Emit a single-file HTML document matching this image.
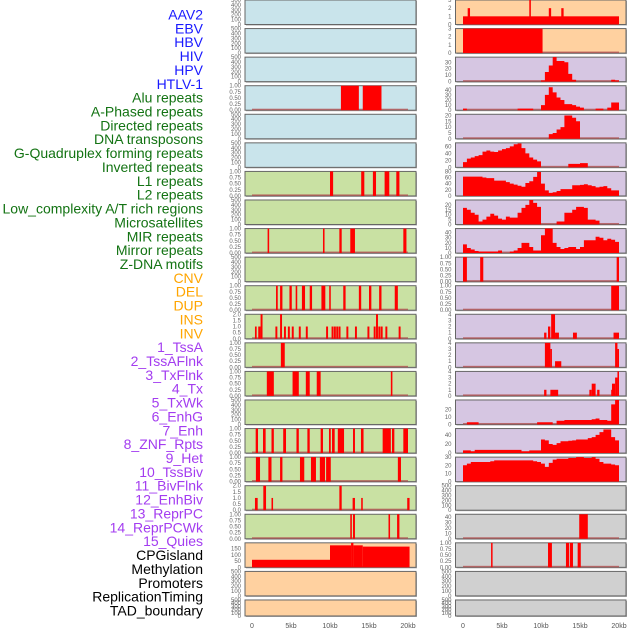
<!DOCTYPE html>
<html><head><meta charset="utf-8"><style>
body{margin:0;background:#fff;width:630px;height:630px;overflow:hidden}
svg{display:block}
text{font-family:"Liberation Sans",sans-serif}
</style></head><body>
<svg id="chart" width="630" height="630" viewBox="0 0 630 630"></svg>
<script>
// ---- category labels ----
const trackLabels=["AAV2","EBV","HBV","HIV","HPV","HTLV-1","Alu repeats","A-Phased repeats","Directed repeats","DNA transposons","G-Quadruplex forming repeats","Inverted repeats","L1 repeats","L2 repeats","Low_complexity A/T rich regions","Microsatellites","MIR repeats","Mirror repeats","Z-DNA motifs","CNV","DEL","DUP","INS","INV","1_TssA","2_TssAFlnk","3_TxFlnk","4_Tx","5_TxWk","6_EnhG","7_Enh","8_ZNF_Rpts","9_Het","10_TssBiv","11_BivFlnk","12_EnhBiv","13_ReprPC","14_ReprPCWk","15_Quies","CPGisland","Methylation","Promoters","ReplicationTiming","TAD_boundary"];
const labelGroups=[6,13,5,15,5];
const xTickValues=[0,5,10,15,20];
const xTickLabels=["0","5kb","10kb","15kb","20kb"];
const ticks500=[0,100,200,300,400,500], ticks1=[0,0.25,0.5,0.75,1], ticks2=[0,0.5,1,1.5,2];
const ticks3=[0,1,2,3], ticks4=[0,1,2,3,4];
// ---- left column segment data [start kb, end kb, value] ----
const L3=[[11.4,13.7,1],[14.2,16.6,1]];
const L6=[[10,10.4,1],[14,14.4,1],[15.5,15.9,1],[17,17.6,1],[18.5,18.9,1]];
const L8=[[2,2.2,1],[9.1,9.3,1],[11.2,11.5,1],[12.6,13.2,1],[19.4,19.8,1]];
const L10=[[3.08,3.3,1],[3.6,3.9,1],[4.8,5.1,1],[5.6,5.8,1],[6.4,6.8,1],[7.4,7.7,1],[8.9,9.4,1],[9.9,10.1,1],[11.7,12,1],[13.7,14,1],[15,15.3,1],[16.3,16.6,1],[18.3,18.7,1]];
const L11=[[0.38,0.6,1],[0.8,1.1,1],[1.1,1.35,2],[3,3.25,1],[3.6,3.85,2],[4.1,4.35,1],[4.6,4.85,1],[5.1,5.35,1],[6,6.25,1],[6.9,7.15,1],[9.5,9.75,1],[10.2,10.45,1],[10.5,10.75,1],[10.8,11.05,1],[11.1,11.35,1],[12.1,12.35,1],[13.2,13.45,1],[14.8,15.05,1],[15.6,15.85,1],[15.9,16.15,2],[16.2,16.45,1],[16.5,16.75,1],[17.1,17.35,1],[18.8,19.05,1]];
const L12=[[3.7,4.2,1]];
const L13=[[1.9,2.8,1],[5.2,6,1],[6.9,7.4,1],[8.3,8.8,1],[17.8,18,1]];
const L15=[[0.47,0.77,1],[1.41,1.75,1],[2.5,2.8,1],[4,4.36,1],[5.7,6,1],[7.1,7.4,1],[8.8,9.1,1],[9.87,10.1,1],[10.26,10.6,1],[11,11.8,1],[12.95,13.2,1],[13.97,14.3,1],[16.75,17.8,1],[17.95,18.25,1],[19.4,20,1]];
const L16=[[0.5,1.03,1],[2.1,2.5,1],[3.6,3.9,1],[6.15,6.7,1],[7.56,8.2,1],[8.7,9.36,1],[9.5,10.1,1],[18.7,19.1,1]];
const L17=[[0.38,0.73,1],[1.45,1.8,2],[2.5,2.7,1],[11.2,11.5,2],[12.9,13.2,1],[14,14.2,1],[19.9,20.2,1]];
const L18=[[12.6,12.8,1],[12.95,13.2,1],[17.5,17.7,1],[18.6,18.9,1]];
const L19=[[0,10,60],[10,12.7,175],[12.7,13,195],[13,14.2,175],[14.2,20.2,165]];
// ---- right column data ----
const R0=[[0,20,1],[0.6,0.9,2],[8.5,8.7,3],[11,11.3,2],[12.6,12.9,2]];
const R1=[[0,10.2,3]];
// binned profiles: 40 bins of 0.5kb starting at 0
const R2=[0,0,0,0,0,0,0,0,0,0,0,0,0,0,0,0,0,0,0,0,2,15,25,38,32,32,30,12,3,0,0,0,0,0,0,0,0,0,3,2];
const R3=[3,0,0,0,0,0,0,0,0,0,0,0,0,0,3,3,3,3,0,0,10,30,45,35,25,20,12,12,10,7,5,0,0,0,3,3,0,5,15,15];
const R4=[0,0,0,0,0,0,0,0,0,0,0,0,0,0,0,0,0,0,0,0,0,0,4,5,8,10,20,20,18,15,0,0,0,0,0,0,0,0,0,0];
const R5=[15,25,28,32,35,45,48,45,44,48,52,55,60,66,68,55,40,28,22,17,0,0,0,0,0,0,0,10,10,10,12,12,0,0,0,0,0,0,0,0];
const R6=[63,63,63,63,63,60,58,58,50,50,50,45,40,37,33,30,42,48,62,78,40,18,10,12,16,22,22,22,35,35,36,38,35,32,28,30,32,25,18,18];
const R7=[17,15,12,10,3,5,8,11,9,6,5,8,7,7,12,17,20,25,22,18,0,0,0,0,3,3,12,12,15,18,18,17,5,5,4,0,0,0,0,0];
const R8=[17,10,7,4,3,3,3,3,3,5,0,0,3,5,10,20,20,12,5,5,35,48,48,20,12,8,10,12,12,8,12,25,25,25,32,30,25,28,26,22];
const R9=[[0,0.5,1],[2.2,2.6,1],[19.7,20,1]];
const R10=[[19,20,1]];
const R11=[[10.4,10.7,1],[10.9,11.2,2],[11.3,11.8,4],[11.8,12.3,1],[14.1,14.6,1],[19.3,20,1]];
const R12=[[10.5,11.2,4],[11.2,11.4,3],[11.8,12.6,1],[19.5,19.8,4],[19.8,20,3]];
const R13=[[10.4,10.7,1],[11.2,12.2,1],[16.2,16.5,1],[16.5,17,2],[17.2,17.5,1],[19,19.1,1],[19.1,19.5,2],[19.5,19.8,3],[19.8,20,4]];
const R14=[0,3,3,3,0,0,0,0,0,0,0,0,0,0,0,0,0,0,0,3,3,3,3,0,5,5,6,6,6,6,6,6,6,7,8,6,6,5,27,33];
const R15=[6,6,4,7,7,7,7,7,7,7,7,7,7,7,7,4,4,6,6,6,30,28,20,18,22,26,26,27,28,30,30,30,33,35,40,46,52,52,35,28];
const R16=[20,22,24,24,24,24,24,25,26,26,26,26,26,26,26,26,26,26,25,24,22,18,23,27,28,28,28,29,29,30,30,29,29,30,28,24,22,22,21,20];
const R18=[[14.9,16,45]];
const R19=[[3.6,3.75,1],[10.9,11.4,1],[13.2,13.6,1],[13.7,14.1,1],[14.7,15.1,1]];

const C={blue:"#c9e4eb",green:"#c9e1a3",orange:"#ffd1a0",purple:"#d6c6e2",grey:"#d0d0d0"};
const leftPanels=[
 {bg:"blue",max:500,ticks:ticks500},{bg:"blue",max:500,ticks:ticks500},{bg:"blue",max:500,ticks:ticks500},
 {bg:"blue",max:1,ticks:ticks1,fmt:2,segs:L3},{bg:"blue",max:500,ticks:ticks500},{bg:"blue",max:500,ticks:ticks500},
 {bg:"green",max:1,ticks:ticks1,fmt:2,segs:L6},{bg:"green",max:500,ticks:ticks500},
 {bg:"green",max:1,ticks:ticks1,fmt:2,segs:L8},{bg:"green",max:500,ticks:ticks500},
 {bg:"green",max:1,ticks:ticks1,fmt:2,segs:L10},{bg:"green",max:2,ticks:ticks2,fmt:1,segs:L11},
 {bg:"green",max:1,ticks:ticks1,fmt:2,segs:L12},{bg:"green",max:1,ticks:ticks1,fmt:2,segs:L13},
 {bg:"green",max:500,ticks:ticks500},{bg:"green",max:1,ticks:ticks1,fmt:2,segs:L15},
 {bg:"green",max:1,ticks:ticks1,fmt:2,segs:L16},{bg:"green",max:2,ticks:ticks2,fmt:1,segs:L17},
 {bg:"green",max:1,ticks:ticks1,fmt:2,segs:L18},{bg:"orange",max:195,ticks:[0,50,100,150],segs:L19},
 {bg:"orange",max:500,ticks:ticks500},{bg:"orange",max:500,ticks:ticks500}];
const rightPanels=[
 {bg:"orange",max:3,ticks:ticks3,segs:R0},{bg:"orange",max:3,ticks:ticks3,segs:R1},
 {bg:"purple",max:38,ticks:[0,10,20,30],bins:R2},{bg:"purple",max:48,ticks:[0,10,20,30,40],bins:R3},
 {bg:"purple",max:21,ticks:[0,5,10,15,20],bins:R4},{bg:"purple",max:70,ticks:[0,20,40,60],bins:R5},
 {bg:"purple",max:80,ticks:[0,20,40,60,80],bins:R6},{bg:"purple",max:25,ticks:[0,5,10,15,20],bins:R7},
 {bg:"purple",max:48,ticks:[0,10,20,30,40],bins:R8},{bg:"purple",max:1,ticks:ticks1,fmt:2,segs:R9},
 {bg:"purple",max:1,ticks:ticks1,fmt:2,segs:R10},{bg:"purple",max:4,ticks:ticks4,segs:R11},
 {bg:"purple",max:4,ticks:ticks4,segs:R12},{bg:"purple",max:4,ticks:ticks4,segs:R13},
 {bg:"purple",max:33,ticks:[0,10,20],bins:R14},{bg:"purple",max:54,ticks:[0,20,40],bins:R15},
 {bg:"purple",max:30,ticks:[0,10,20,30],bins:R16},{bg:"grey",max:500,ticks:ticks500},
 {bg:"grey",max:45,ticks:[0,10,20,30,40],segs:R18},{bg:"grey",max:1,ticks:ticks1,fmt:2,segs:R19},
 {bg:"grey",max:500,ticks:ticks500},{bg:"grey",max:500,ticks:ticks500}];

const NS="http://www.w3.org/2000/svg", svg=document.getElementById("chart");
function mk(tag,at,parent){const e=document.createElementNS(NS,tag);for(const k in at)e.setAttribute(k,at[k]);(parent||svg).appendChild(e);return e;}

// labels
const groupColors=["#1a1aff","#137313","#ffa500","#a33cf0","#000000"];
let gi=0,gc=0;
trackLabels.forEach((t,i)=>{
  if(gc>=labelGroups[gi]){gi++;gc=0;} gc++;
  const e=mk("text",{x:203,y:(19.5+i*13.86).toFixed(1),"text-anchor":"end","font-size":"14",fill:groupColors[gi]});
  e.textContent=t;
  
  
});

function drawColumn(panels,px0,px1,x0kb,colName){
  const xs=kb=>x0kb+kb*7.8;
  panels.forEach((p,i)=>{
    const top=28.57*i, h=(i===panels.length-1)?16:24.5;
    const g=mk("g",{});
    
    
    mk("rect",{x:px0+1,y:top+1,width:px1-px0,height:h,fill:"#aaa"},g);
    mk("rect",{x:px0,y:top,width:px1-px0,height:h,fill:C[p.bg],stroke:"#666","stroke-width":1},g);
    const ys=v=>top+h-(v/p.max)*h;
    const hasData=p.segs||p.bins;
    if(hasData) mk("rect",{x:xs(0),y:top+h-1.5,width:xs(20)-xs(0),height:1.5,fill:"#b05050",opacity:0.8},g);
    if(p.segs){p.segs.forEach(s=>{
      const x=xs(s[0]),w=Math.max(1.5,xs(s[1])-xs(s[0]));
      const r=mk("rect",{x:x.toFixed(2),y:ys(s[2]).toFixed(2),width:w.toFixed(2),height:(top+h-ys(s[2])).toFixed(2),fill:"#ff0000"},g);
      
      
    });}
    if(p.bins){
      let d="M"+xs(0)+","+(top+h);
      p.bins.forEach((v,k)=>{d+=" L"+xs(k*0.5).toFixed(2)+","+ys(v).toFixed(2)+" L"+xs(k*0.5+0.5).toFixed(2)+","+ys(v).toFixed(2);});
      d+=" L"+xs(20)+","+(top+h)+" Z";
      const a=mk("path",{d:d,fill:"#ff0000"},g);
      
      
    }
    p.ticks.forEach(t=>{
      const e=mk("text",{x:px0-4,y:(ys(t)+2).toFixed(1),"text-anchor":"end","font-size":"6",fill:"#666"},g);
      e.textContent=p.fmt?t.toFixed(p.fmt):String(t);
      
      
    });
  });
  xTickValues.forEach((v,k)=>{
    const e=mk("text",{x:xs(v),y:628,"text-anchor":"middle","font-size":"7",fill:"#555"});
    e.textContent=xTickLabels[k];
    
    
  });
}
drawColumn(leftPanels,245,416,252,"left");
drawColumn(rightPanels,455.5,626,463,"right");
</script>
</body></html>
